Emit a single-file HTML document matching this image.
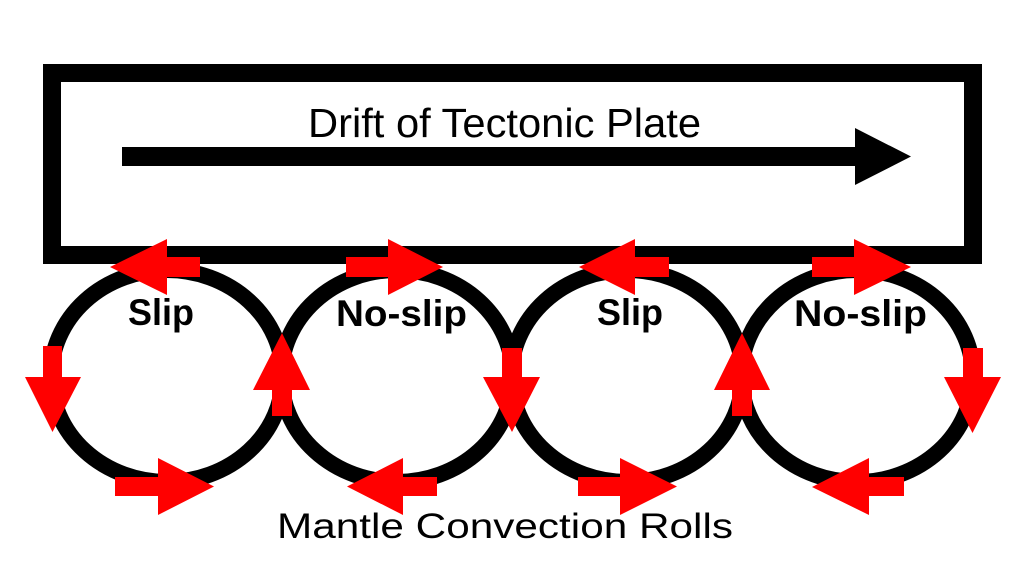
<!DOCTYPE html>
<html>
<head>
<meta charset="utf-8">
<style>
  html, body { margin: 0; padding: 0; background: #ffffff; }
  body { width: 1024px; height: 576px; overflow: hidden; }
  svg { display: block; }
  text { font-family: "Liberation Sans", "DejaVu Sans", sans-serif; fill: #000; }
</style>
</head>
<body>
<svg width="1024" height="576" viewBox="0 0 1024 576" xmlns="http://www.w3.org/2000/svg">
  <rect x="0" y="0" width="1024" height="576" fill="#ffffff"/>

  <!-- Tectonic plate box -->
  <rect x="52" y="73" width="921" height="182" fill="none" stroke="#000" stroke-width="18"/>

  <!-- Drift arrow -->
  <rect x="122" y="147" width="733" height="19" fill="#000"/>
  <polygon points="855,128 911,156.5 855,185" fill="#000"/>

  <text x="308" y="137" font-size="41" textLength="393" lengthAdjust="spacingAndGlyphs">Drift of Tectonic Plate</text>

  <!-- Convection rolls -->
  <g fill="none" stroke="#000" stroke-width="16">
    <ellipse cx="167" cy="376" rx="116" ry="106"/>
    <ellipse cx="397" cy="376" rx="116" ry="106"/>
    <ellipse cx="627" cy="376" rx="116" ry="106"/>
    <ellipse cx="857" cy="376" rx="116" ry="106"/>
  </g>

  <!-- Red arrows -->
  <g fill="#ff0000">
    <!-- top arrows (yc 267) -->
    <polygon points="110,267 167,239 167,257 200,257 200,277 167,277 167,295"/>
    <polygon points="443,267 388,239 388,257 346,257 346,277 388,277 388,295"/>
    <polygon points="579,267 635,239 635,257 669,257 669,277 635,277 635,295"/>
    <polygon points="911,267 854,239 854,257 812,257 812,277 854,277 854,295"/>

    <!-- bottom arrows (yc 486.5) -->
    <polygon points="214,486.5 158,458 158,477 115,477 115,496 158,496 158,515"/>
    <polygon points="347,486.5 403,458 403,477 437,477 437,496 403,496 403,515"/>
    <polygon points="677,486.5 620,458 620,477 578,477 578,496 620,496 620,515"/>
    <polygon points="812,487 869,458 869,477 904,477 904,496 869,496 869,515"/>

    <!-- vertical arrows -->
    <polygon points="52.5,432 25,377 43,377 43,346 62,346 62,377 81,377"/>
    <polygon points="282,333 253,390 272,390 272,416 292,416 292,390 310,390"/>
    <polygon points="512,432 483,377 502,377 502,348 522,348 522,377 540,377"/>
    <polygon points="742,333 714,390 732,390 732,416 752,416 752,390 770,390"/>
    <polygon points="972.5,433 944,377 963,377 963,348 983,348 983,377 1001,377"/>
  </g>

  <!-- Labels -->
  <g font-weight="bold" font-size="37">
    <text x="128" y="325" textLength="66" lengthAdjust="spacingAndGlyphs">Slip</text>
    <text x="336" y="326" textLength="131" lengthAdjust="spacingAndGlyphs">No-slip</text>
    <text x="597" y="325" textLength="66" lengthAdjust="spacingAndGlyphs">Slip</text>
    <text x="794" y="326" textLength="133" lengthAdjust="spacingAndGlyphs">No-slip</text>
  </g>

  <text x="277" y="538" font-size="35" textLength="456" lengthAdjust="spacingAndGlyphs">Mantle Convection Rolls</text>
</svg>
</body>
</html>
